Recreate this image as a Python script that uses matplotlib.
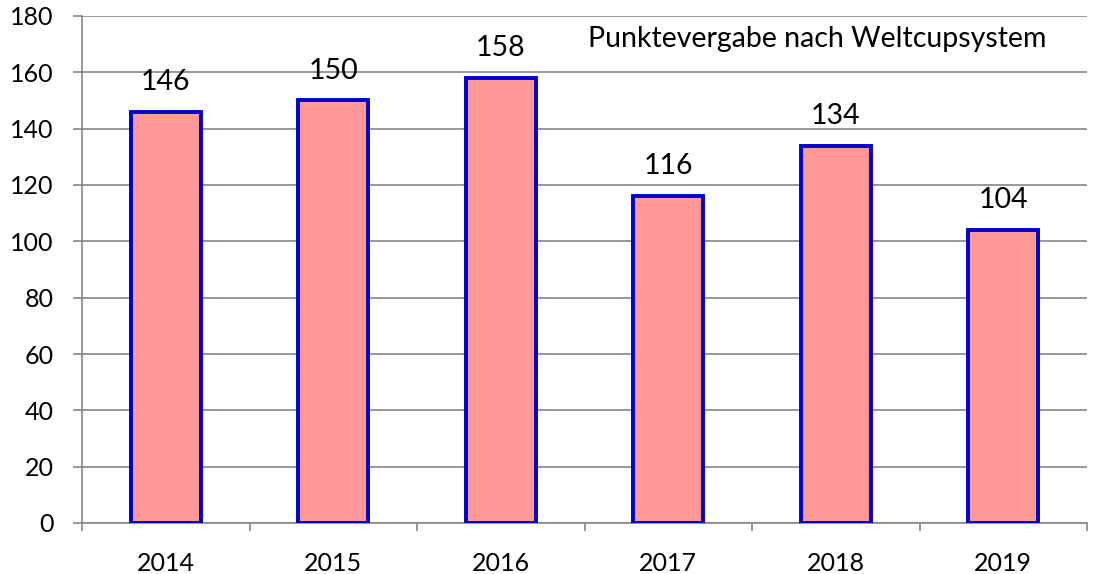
import matplotlib
matplotlib.use("Agg")
import matplotlib.pyplot as plt
import numpy as np

# data
years = ['2014', '2015', '2016', '2017', '2018', '2019']
points = [146, 150, 158, 116, 134, 104]
note = 'Punktevergabe nach Weltcupsystem'

plt.rcParams['font.family'] = ['Lato', 'DejaVu Sans']
fs_tick = 18
fs_lab = 20.5

fig = plt.figure(figsize=(10.97, 5.74), dpi=100)
ax = fig.add_axes([82/1097, 1 - 523/574, 1005/1097, 507/574])

x = np.arange(len(years))
ax.bar(x, points, width=0.42, color='#FF9999', edgecolor='#0000CC', linewidth=2.8, zorder=3)

# value labels above the bars
for xi, v in zip(x, points):
    ax.text(xi, v + 7.8, str(v), ha='center', va='baseline', fontsize=fs_lab, color='black')

ax.set_xlim(-0.5, len(years) - 0.5)
ax.set_ylim(0, 180)
ax.set_yticks(np.arange(0, 181, 20))
ax.set_xticks(x)
ax.set_xticklabels(years)
ax.set_xticks(np.arange(-0.5, len(years), 1), minor=True)

ax.grid(axis='y', color='#868686', linewidth=1.2, zorder=0)
for s in ['top', 'right']:
    ax.spines[s].set_visible(False)
for s in ['left', 'bottom']:
    ax.spines[s].set_color('#868686')
    ax.spines[s].set_linewidth(1.2)

ax.tick_params(axis='y', length=6.5, width=1.2, color='#868686', pad=14, labelsize=fs_tick)
ax.tick_params(axis='x', which='major', length=0, pad=21, labelsize=fs_tick)
ax.tick_params(axis='x', which='minor', length=5.5, width=1.2, color='#868686')

ax.text(0.732, 0.939, note, transform=ax.transAxes, ha='center', va='baseline', fontsize=fs_lab)

fig.savefig('out.png', dpi=100)
